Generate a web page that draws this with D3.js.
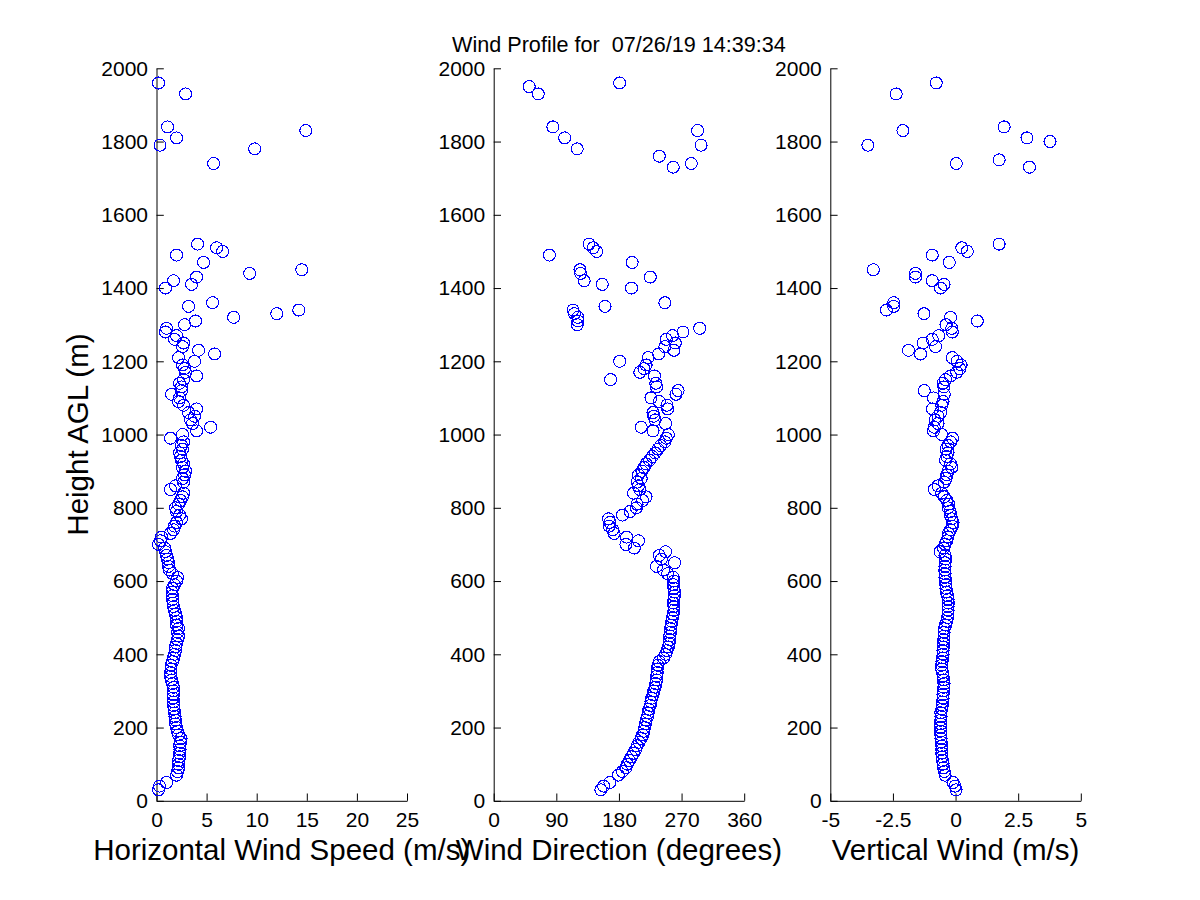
<!DOCTYPE html>
<html>
<head>
<meta charset="utf-8">
<script src="https://cdn.jsdelivr.net/npm/d3@7"></script>
<style>
  body { margin: 0; background: #fff; }
  svg { display: block; }
</style>
</head>
<body>
<svg id="chart"></svg>
<script>
// heights (m AGL) shared by the three profiles; null = no value at that gate
var heights = [30, 40, 50,
    70, 80, 90, 100, 110, 120, 130, 140, 150, 160,
    170, 180, 190, 200, 210, 220, 230, 240, 250, 260,
    270, 280, 290, 300, 310, 320, 330, 340, 350, 360,
    370, 380, 390, 400, 410, 420, 430, 440, 450, 460,
    470, 480, 490, 500, 510, 520, 530, 540, 550, 560,
    570, 580, 590, 600, 610, 620, 630, 640, 650, 660,
    670, 680, 690, 700, 710, 720, 730, 740, 750, 760,
    770, 780, 790, 800, 810, 820, 830, 840, 850, 860,
    870, 880, 890, 900, 910, 920, 930, 940, 950, 960,
    970, 980, 990, 1000, 1010, 1020, 1030, 1040, 1050, 1060,
    1070, 1080, 1090, 1100, 1110, 1120, 1130, 1140, 1150, 1160,
    1170, 1180, 1190, 1200, 1210, 1220, 1230, 1240, 1250, 1260,
    1270, 1280, 1290, 1300, 1310, 1320, 1330, 1340, 1350, 1360,
    1400, 1410, 1420, 1430, 1440, 1450, 1470, 1490, 1500, 1510, 1520,
    1730, 1740, 1750, 1760, 1780, 1790, 1800, 1810, 1830, 1840, 1930, 1950, 1960];

var speed = [0.2, 0.3, 1.0,
    2.0, 2.1, 2.2, 2.2, 2.2, 2.3, 2.3, 2.35, 2.3, 2.4,
    2.45, 2.2, 2.1, 2.0, 1.9, 1.9, 1.85, 1.8, 1.75, 1.7,
    1.7, 1.65, 1.7, 1.7, 1.7, 1.6, 1.5, 1.4, 1.4, 1.45,
    1.45, 1.6, 1.7, 1.8, 1.9, 1.9, 2.0, 2.1, 2.2, 2.1,
    2.2, 2.0, 2.0, 2.0, 1.9, 1.8, 1.7, 1.65, 1.6, 1.6,
    1.55, 1.6, 1.8, 2.0, 2.1, 1.6, 1.3, 1.2, 1.2, 1.1,
    1.0, 0.9, 0.8, 0.2, 0.4, 0.5, 1.4, 1.7, 1.8, 2.0,
    2.5, 2.3, 2.0, 1.9, 2.2, 2.4, 2.6, 2.7, 1.4, 1.9,
    2.7, 2.6, 2.8, 2.9, 2.6, 2.7, 2.5, 2.4, 2.3, 2.6,
    2.5, 2.7, 1.4, 2.6, 4.0, 5.4, 3.6, 3.4, 3.8, 3.2,
    4.0, 2.7, 2.2, 2.3, 1.5, 2.5, 2.5, 2.3, 2.7, 4.0,
    2.9, 2.8, 2.6, 3.8, 2.2, 5.8, 4.2, 2.6, 2.7, 1.8,
    2.0, 0.9, 1.0, 2.8, 3.9, 7.7, 12.0, 14.2, 3.2, 5.6,
    0.9, 3.5, 1.7, 4.0, 9.3, 14.5, 4.7, 2.0, 6.6, 6.0, 4.1,
    null, 5.7, null, null, 9.8, 0.35, null, 2.0, 14.9, 1.1, 2.9, null, 0.2];

var direction = [154, 158, 167,
    179, 185, 190, 192, 195, 198, 201, 204, 206, 209,
    212, 214, 216, 217, 218, 219, 221, 222, 223, 225,
    226, 227, 229, 230, 232, 233, 234, 234, 235, 235,
    236, 238, 244, 247, 249, 251, 252, 253, 253, 254,
    254, 255, 256, 257, 258, 259, 259, 258, 259, 260,
    260, 259, 258, 259, 258, 250, 244, 234, 260, 241,
    238, 247, 202, 190, 208, 191, 173, 171, 166, 167,
    165, 185, 196, 205, 206, 214, 219, 201, 210, 208,
    206, 212, 208, 213, 216, 219, 224, 228, 232, 236,
    240, 246, 248, 251, 229, 212, 247, 232, 230, 229,
    250, 249, 238, 226, 262, 265, 234, 233, 168, 231,
    210, 216, 219, 181, 222, 237, 259, 246, 261, 248,
    257, 272, 296, 120, 121, 121, 116, 114, 160, 246,
    198, 156, 130, 225, 125, 124, 199, 80, 148, 143, 137,
    258, 284, null, 238, 120, 298, null, 102, 293, 85, 64, 51, 181];

var vertical = [0.02, -0.02, -0.1,
    -0.42, -0.45, -0.48, -0.5, -0.52, -0.54, -0.55, -0.55, -0.55, -0.57,
    -0.58, -0.59, -0.59, -0.6, -0.6, -0.59, -0.58, -0.59, -0.55, -0.53,
    -0.52, -0.5, -0.5, -0.48, -0.47, -0.46, -0.48, -0.5, -0.52, -0.55,
    -0.56, -0.54, -0.52, -0.5, -0.5, -0.49, -0.48, -0.47, -0.46, -0.46,
    -0.45, -0.4, -0.35, -0.32, -0.3, -0.3, -0.3, -0.29, -0.3, -0.32,
    -0.36, -0.38, -0.39, -0.4, -0.42, -0.42, -0.43, -0.42, -0.42, -0.4,
    -0.42, -0.62, -0.48, -0.42, -0.35, -0.3, -0.28, -0.2, -0.13, -0.1,
    -0.15, -0.2, -0.22, -0.3, -0.28, -0.35, -0.45, -0.55, -0.85, -0.7,
    -0.45, -0.38, -0.35, -0.3, -0.15, -0.2, -0.4, -0.35, -0.3, -0.38,
    -0.3, -0.2, -0.12, -0.55, -0.88, -0.85, -0.7, -0.82, -0.7, -0.6,
    -0.92, -0.55, -0.5, -0.88, -0.45, -1.25, -0.47, -0.5, -0.4, -0.2,
    0.05, 0.17, 0.22, 0.06, -0.13, -1.4, -1.88, -0.8, -1.3, -0.93,
    -0.67, -0.13, -0.15, -0.38, 0.87, -0.2, -1.26, -2.76, -2.47, -2.47,
    -0.6, -0.46, -0.93, -1.6, -1.6, -3.28, -0.25, -0.93, 0.47, 0.25, 1.74,
    2.95, 0.03, 1.74, null, null, -3.5, 3.77, 2.85, -2.1, 1.94, -2.37, null, -0.77];

var heightTicks = [0, 200, 400, 600, 800, 1000, 1200, 1400, 1600, 1800, 2000];
var speedTicks = [0, 5, 10, 15, 20, 25];
var directionTicks = [0, 90, 180, 270, 360];
var verticalTicks = [-5, -2.5, 0, 2.5, 5];

var titleText = "Wind Profile for  07/26/19 14:39:34";
var FONT = "'Liberation Sans', Arial, Helvetica, sans-serif";

var width = 1200, height = 900;
var svg = d3.select("#chart").attr("width", width).attr("height", height);

var plotTop = 68.3, plotBottom = 800.8, panelWidth = 250.5;
var y = d3.scaleLinear().domain([0, 2000]).range([plotBottom, plotTop]);

function plain(d) { return String(d); }

var panels = [
    { left: 156.5, domain: [0, 25], ticks: speedTicks, values: speed,
      label: "Horizontal Wind Speed (m/s)" },
    { left: 493.7, domain: [0, 360], ticks: directionTicks, values: direction,
      label: "Wind Direction (degrees)" },
    { left: 830.3, domain: [-5, 5], ticks: verticalTicks, values: vertical,
      label: "Vertical Wind (m/s)" }
];

function styleAxis(g) {
    g.attr("font-family", FONT).attr("font-size", 21);
    g.selectAll("path.domain").attr("stroke", "#000").attr("stroke-width", 1);
    g.selectAll(".tick line").attr("stroke", "#000").attr("stroke-width", 1);
    g.selectAll(".tick text").attr("fill", "#000");
}

panels.forEach(function(p, i) {
    var x = d3.scaleLinear().domain(p.domain).range([p.left, p.left + panelWidth]);

    var gx = svg.append("g")
        .attr("transform", "translate(0," + plotBottom + ")")
        .call(d3.axisBottom(x).tickValues(p.ticks).tickFormat(plain)
            .tickSize(-7.3).tickSizeOuter(0).tickPadding(11));
    styleAxis(gx);

    var gy = svg.append("g")
        .attr("transform", "translate(" + p.left + ",0)")
        .call(d3.axisLeft(y).tickValues(heightTicks).tickFormat(plain)
            .tickSize(-7.3).tickSizeOuter(0).tickPadding(8.5));
    styleAxis(gy);

    var pts = heights.map(function(h, k) { return { h: h, v: p.values[k] }; })
        .filter(function(d) { return d.v !== null; });

    svg.append("g").selectAll("circle")
        .data(pts)
        .enter()
        .append("circle")
        .attr("cx", function(d) { return x(d.v); })
        .attr("cy", function(d) { return y(d.h); })
        .attr("r", 6)
        .attr("fill", "none")
        .attr("stroke", "#0000ff")
        .attr("stroke-width", 1.1)
        .attr("shape-rendering", "crispEdges");

    svg.append("text")
        .attr("x", p.left + panelWidth / 2)
        .attr("y", 860)
        .attr("text-anchor", "middle")
        .attr("font-family", FONT)
        .attr("font-size", 29.5)
        .text(p.label);

    if (i === 1) {
        svg.append("text")
            .attr("x", p.left + panelWidth / 2)
            .attr("y", 52)
            .attr("text-anchor", "middle")
            .attr("font-family", FONT)
            .attr("font-size", 21.6)
            .style("white-space", "pre")
            .text(titleText);
    }
});

svg.append("text")
    .attr("transform", "translate(88," + ((plotTop + plotBottom) / 2) + ") rotate(-90)")
    .attr("text-anchor", "middle")
    .attr("font-family", FONT)
    .attr("font-size", 29.5)
    .text("Height AGL (m)");
</script>
</body>
</html>
